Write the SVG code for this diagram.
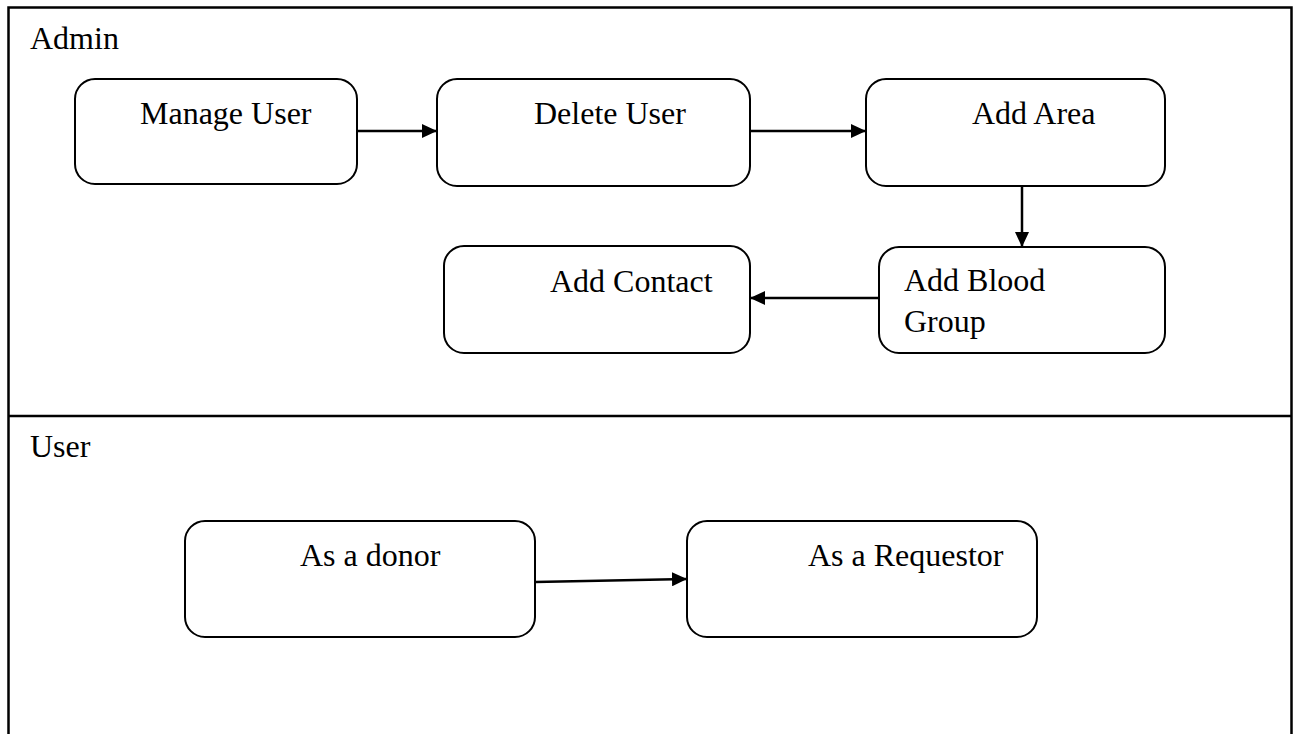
<svg xmlns="http://www.w3.org/2000/svg" width="1294" height="734" viewBox="0 0 1294 734">
  <style>
    .lane { fill: none; stroke: #000; stroke-width: 2.5; }
    .node rect { fill: #fff; stroke: #000; stroke-width: 2; }
    text { font-family: "Liberation Serif", "Times New Roman", serif; font-size: 32px; fill: #000; }
    .edge { fill: none; stroke: #000; stroke-width: 2.5; marker-end: url(#head); }
  </style>
  <defs>
    <marker id="head" viewBox="0 0 15 14" refX="15" refY="7" markerWidth="15" markerHeight="14" markerUnits="userSpaceOnUse" orient="auto">
      <path d="M0,0 L15,7 L0,14 Z" fill="#000"/>
    </marker>
  </defs>

  <rect width="1294" height="734" fill="#fff"/>

  <!-- swimlanes -->
  <g id="lanes">
    <path class="lane" d="M8.5,740 V7.5 H1291.5 V740"/>
    <line class="lane" x1="8.5" y1="416" x2="1291.5" y2="416"/>
    <text x="30" y="49">Admin</text>
    <text x="30" y="457">User</text>
  </g>

  <!-- Admin lane -->
  <g id="manage-user" class="node">
    <rect x="75" y="79" width="282" height="105" rx="20"/>
    <text x="140" y="124">Manage User</text>
  </g>
  <g id="delete-user" class="node">
    <rect x="437" y="79" width="313" height="107" rx="20"/>
    <text x="534" y="124">Delete User</text>
  </g>
  <g id="add-area" class="node">
    <rect x="866" y="79" width="299" height="107" rx="20"/>
    <text x="972" y="124">Add Area</text>
  </g>
  <g id="add-blood-group" class="node">
    <rect x="879" y="247" width="286" height="106" rx="20"/>
    <text x="904" y="291">Add Blood</text>
    <text x="904" y="332">Group</text>
  </g>
  <g id="add-contact" class="node">
    <rect x="444" y="246" width="306" height="107" rx="20"/>
    <text x="550" y="292">Add Contact</text>
  </g>

  <!-- User lane -->
  <g id="as-donor" class="node">
    <rect x="185" y="521" width="350" height="116" rx="20"/>
    <text x="300" y="566">As a donor</text>
  </g>
  <g id="as-requestor" class="node">
    <rect x="687" y="521" width="350" height="116" rx="20"/>
    <text x="808" y="566">As a Requestor</text>
  </g>

  <!-- connectors -->
  <g id="connectors">
    <line class="edge" x1="357" y1="131" x2="437" y2="131"/>
    <line class="edge" x1="750" y1="131" x2="866" y2="131"/>
    <line class="edge" x1="1022" y1="186" x2="1022" y2="247"/>
    <line class="edge" x1="879" y1="298" x2="750" y2="298"/>
    <line class="edge" x1="535" y1="582" x2="687" y2="579"/>
  </g>
</svg>
